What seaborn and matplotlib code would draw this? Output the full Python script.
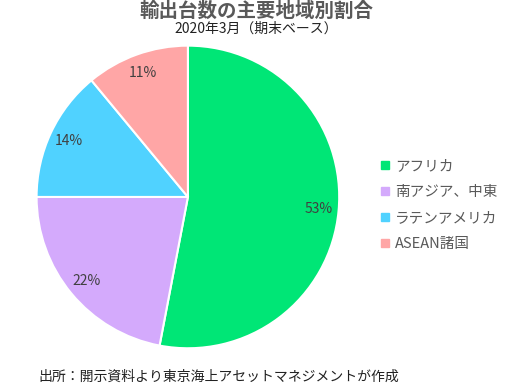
import matplotlib
matplotlib.use("Agg")
import matplotlib.pyplot as plt
import seaborn as sns
from matplotlib.lines import Line2D

sns.set_theme(style="white")
plt.rcParams['font.family'] = ['Noto Sans CJK JP', 'DejaVu Sans']

categories = ["アフリカ", "南アジア、中東", "ラテンアメリカ", "ASEAN諸国"]
values = [53, 22, 14, 11]
colors = ["#00E676", "#D4AAFC", "#50D2FF", "#FFA6A6"]

fig = plt.figure(figsize=(5.12, 3.9), dpi=100)
ax = fig.add_axes([0.367 - 0.297, 0.495 - 0.39, 0.594, 0.78])
wedges, texts, autotexts = ax.pie(
    values, colors=colors, startangle=90, counterclock=False,
    autopct=lambda p: f"{p:.0f}%", pctdistance=0.87,
    wedgeprops=dict(edgecolor="white", linewidth=1.5),
    textprops=dict(fontsize=10, color="#404040"))
ax.set_xlim(-1.005, 1.005)
ax.set_ylim(-1.005, 1.005)
ax.set_aspect("equal")

fig.text(0.5, 0.995, "輸出台数の主要地域別割合", ha="center", va="top",
         fontsize=14, fontweight="bold", color="#595959")
fig.text(0.5, 0.945, "2020年3月（期末ベース）", ha="center", va="top",
         fontsize=10, color="#222222")
fig.text(0.075, 0.035, "出所：開示資料より東京海上アセットマネジメントが作成", ha="left", va="center",
         fontsize=10, color="#222222")

handles = [Line2D([0], [0], marker="s", linestyle="", markersize=6,
                  markerfacecolor=c, markeredgecolor=c) for c in colors]
fig.legend(handles, categories, loc="center left", bbox_to_anchor=(0.717, 0.474),
           frameon=False, fontsize=10.5, labelcolor="#595959",
           handlelength=0.6, handletextpad=0.4, labelspacing=0.82)

fig.savefig("out.png", dpi=100)
